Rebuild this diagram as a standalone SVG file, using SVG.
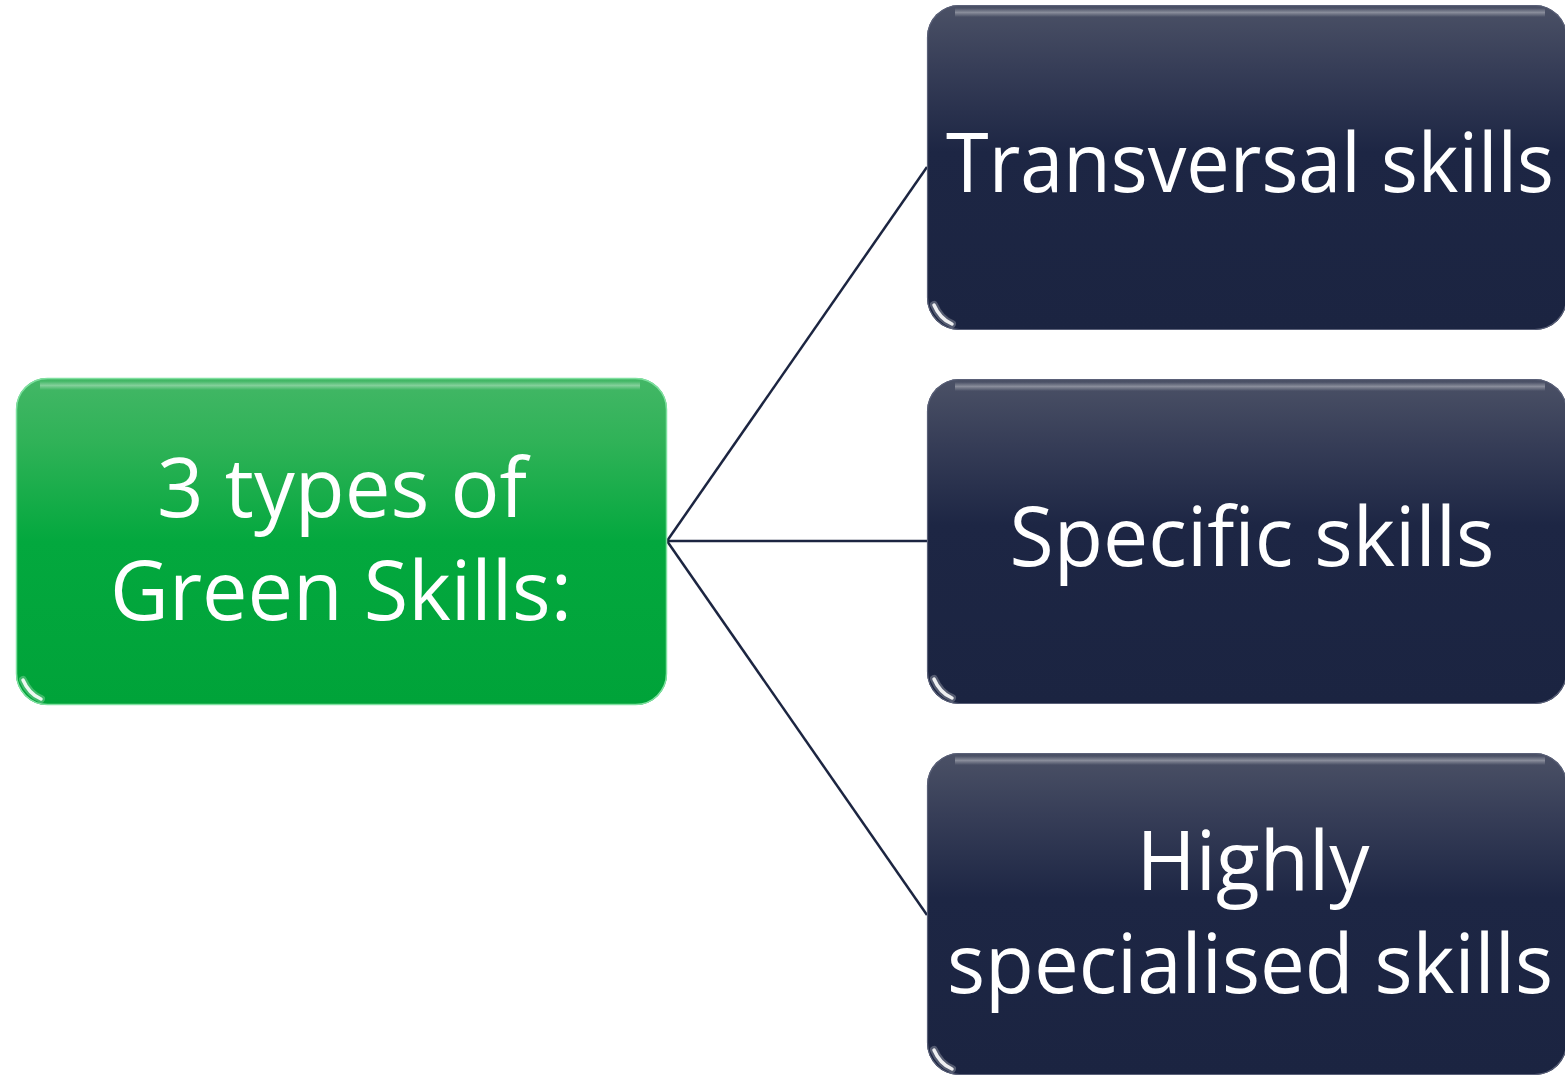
<svg xmlns="http://www.w3.org/2000/svg" width="1565" height="1075" viewBox="0 0 1565 1075">
  <defs>
    <linearGradient id="gDark" x1="0" y1="0" x2="0" y2="1">
      <stop offset="0" stop-color="#4b5166"/>
      <stop offset="0.2" stop-color="#363d57"/>
      <stop offset="0.45" stop-color="#1d2644"/>
      <stop offset="1" stop-color="#1b2441"/>
    </linearGradient>
    <linearGradient id="gGreen" x1="0" y1="0" x2="0" y2="1">
      <stop offset="0" stop-color="#43b766"/>
      <stop offset="0.2" stop-color="#2fb257"/>
      <stop offset="0.5" stop-color="#03a83e"/>
      <stop offset="1" stop-color="#00a339"/>
    </linearGradient>
    <linearGradient id="gTopHi" x1="0" y1="0" x2="0" y2="1">
      <stop offset="0" stop-color="#ffffff" stop-opacity="0"/>
      <stop offset="0.5" stop-color="#ffffff" stop-opacity="0.35"/>
      <stop offset="1" stop-color="#ffffff" stop-opacity="0"/>
    </linearGradient>
  </defs>
  <style>
    .dark { fill: url(#gDark); }
    .green { fill: url(#gGreen); }
    .edgeD { fill: none; stroke: #5a6078; stroke-width: 1.2; }
    .edgeG { fill: none; stroke: #7fe0a0; stroke-width: 1.5; }
    .tophi { fill: url(#gTopHi); }
    .glossW { fill: none; stroke: #ffffff; stroke-width: 8; stroke-linecap: round; opacity: 0.25; }
    .gloss { fill: none; stroke: #ffffff; stroke-width: 3.5; stroke-linecap: round; opacity: 0.9; }
    .lbl { font-family: "Open Sans", "Liberation Sans", sans-serif; font-size: 83px; fill: #ffffff; text-anchor: middle; }
    .conn { stroke: #1c2541; stroke-width: 2.5; fill: none; }
  </style>

  <g id="connectors">
    <line class="conn" x1="667" y1="541" x2="927" y2="167"/>
    <line class="conn" x1="667" y1="541" x2="927" y2="541"/>
    <line class="conn" x1="667" y1="541" x2="927" y2="915"/>
  </g>

  <g id="node-root">
    <rect class="green" x="16" y="378" width="651" height="327" rx="31"/>
    <rect class="edgeG" x="16.5" y="378.5" width="650" height="326" rx="31"/>
    <rect class="tophi" x="40" y="381" width="600" height="9"/>
    <path class="glossW" d="M23 680 Q29 694 41 699"/>
    <path class="gloss" d="M23 680 Q29 694 41 699"/>
    <text class="lbl" x="342" y="517" textLength="370" lengthAdjust="spacingAndGlyphs">3 types of</text>
    <text class="lbl" x="341" y="620" textLength="462" lengthAdjust="spacingAndGlyphs">Green Skills:</text>
  </g>

  <g id="node-transversal">
    <rect class="dark" x="927" y="5" width="640" height="325" rx="32"/>
    <rect class="edgeD" x="927.5" y="5.5" width="639" height="324" rx="32"/>
    <rect class="tophi" x="955" y="8" width="590" height="9"/>
    <path class="glossW" d="M934 305 Q940 319 952 324"/>
    <path class="gloss" d="M934 305 Q940 319 952 324"/>
    <text class="lbl" x="1250" y="192" textLength="608" lengthAdjust="spacingAndGlyphs">Transversal skills</text>
  </g>

  <g id="node-specific">
    <rect class="dark" x="927" y="379" width="640" height="325" rx="32"/>
    <rect class="edgeD" x="927.5" y="379.5" width="639" height="324" rx="32"/>
    <rect class="tophi" x="955" y="382" width="590" height="9"/>
    <path class="glossW" d="M934 679 Q940 693 952 698"/>
    <path class="gloss" d="M934 679 Q940 693 952 698"/>
    <text class="lbl" x="1252" y="566" textLength="485" lengthAdjust="spacingAndGlyphs">Specific skills</text>
  </g>

  <g id="node-specialised">
    <rect class="dark" x="927" y="753" width="640" height="322" rx="32"/>
    <rect class="edgeD" x="927.5" y="753.5" width="639" height="321" rx="32"/>
    <rect class="tophi" x="955" y="756" width="590" height="9"/>
    <path class="glossW" d="M934 1050 Q940 1064 952 1069"/>
    <path class="gloss" d="M934 1050 Q940 1064 952 1069"/>
    <text class="lbl" x="1253" y="890" textLength="233" lengthAdjust="spacingAndGlyphs">Highly</text>
    <text class="lbl" x="1250" y="993" textLength="606" lengthAdjust="spacingAndGlyphs">specialised skills</text>
  </g>
</svg>
